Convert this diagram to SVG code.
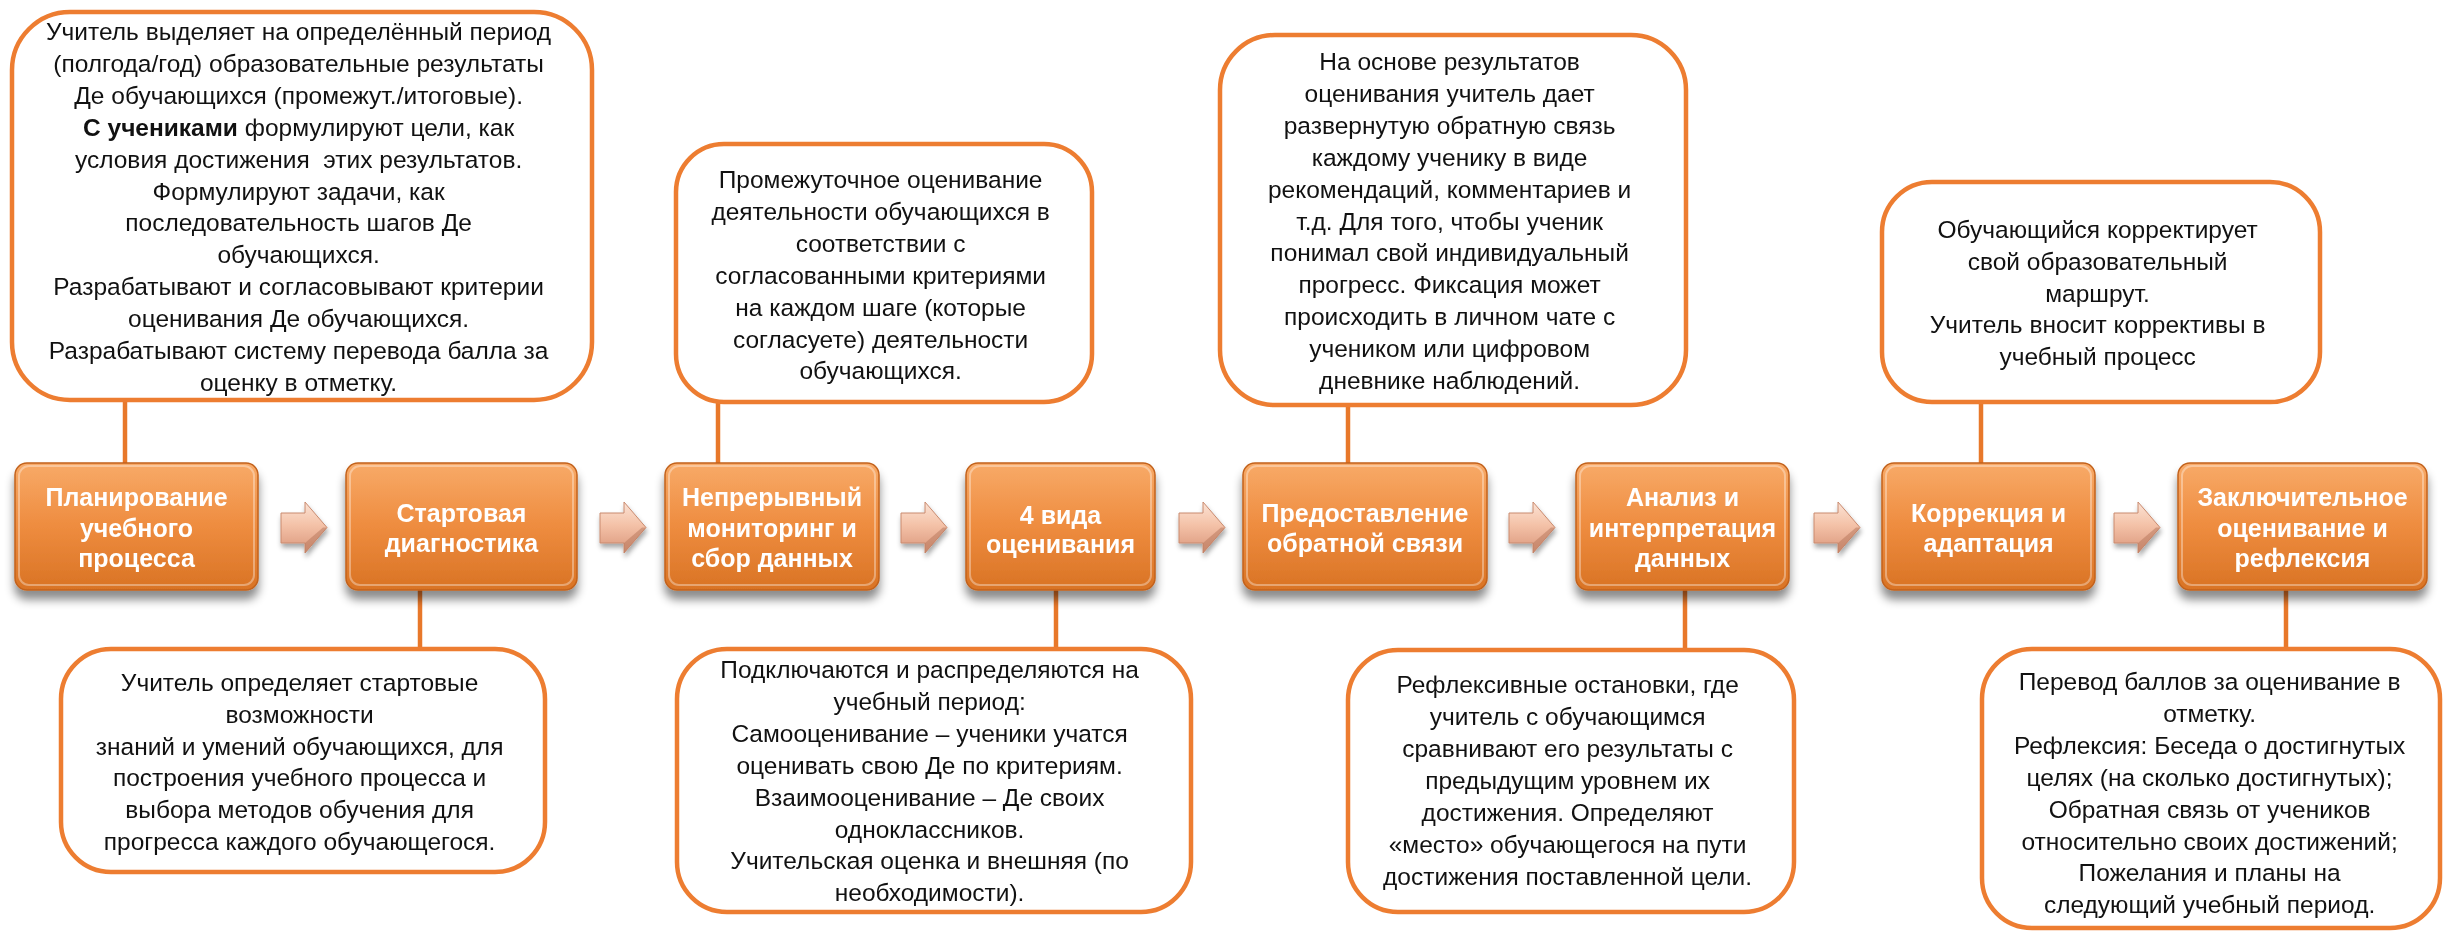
<svg xmlns="http://www.w3.org/2000/svg" width="2445" height="933" viewBox="0 0 2445 933">
<defs>
<linearGradient id="og" x1="0" y1="0" x2="0" y2="1">
<stop offset="0" stop-color="#F8AA68"/>
<stop offset="0.5" stop-color="#EE8C3F"/>
<stop offset="1" stop-color="#D97324"/>
</linearGradient>
<linearGradient id="ag" x1="0" y1="0" x2="0" y2="1">
<stop offset="0" stop-color="#FBE3D5"/>
<stop offset="0.45" stop-color="#F4C2A8"/>
<stop offset="1" stop-color="#D9957A"/>
</linearGradient>
<filter id="sh" x="-20%" y="-20%" width="140%" height="160%">
<feDropShadow dx="0" dy="9" stdDeviation="5" flood-color="#000" flood-opacity="0.45"/>
</filter>
<filter id="ash" x="-30%" y="-30%" width="160%" height="170%">
<feDropShadow dx="1" dy="4" stdDeviation="2.5" flood-color="#000" flood-opacity="0.35"/>
</filter>
<symbol id="arrow" overflow="visible">
<polygon points="0,11 24,11 24,0 46,25.5 24,51 24,41 0,41" fill="url(#ag)" stroke="#C98A6E" stroke-width="1"/>
<polygon points="24,41 24,51 46,25.5 42,25.5" fill="#B97A5E" opacity="0.55"/>
</symbol>
</defs>
<style>
.call{fill:#fff;stroke:#ED7D31;stroke-width:4.5}
.conn{stroke:#E8782A;stroke-width:4.5;fill:none}
.pbox{fill:url(#og);stroke:#C2621C;stroke-width:1.5}
.hl{fill:none;stroke:#fff;stroke-opacity:0.35;stroke-width:2}
.t{font-family:"Liberation Sans",Arial,sans-serif;font-size:24.5px;fill:#111;text-anchor:middle;white-space:pre}
.pt{font-family:"Liberation Sans",Arial,sans-serif;font-size:25px;font-weight:bold;fill:#fff;text-anchor:middle}
</style>

<g id="connectors">
<line class="conn" x1="125" y1="400" x2="125" y2="463"/>
<line class="conn" x1="420" y1="590" x2="420" y2="649"/>
<line class="conn" x1="718" y1="402" x2="718" y2="463"/>
<line class="conn" x1="1056" y1="590" x2="1056" y2="649"/>
<line class="conn" x1="1348" y1="405" x2="1348" y2="463"/>
<line class="conn" x1="1685" y1="590" x2="1685" y2="650"/>
<line class="conn" x1="1981" y1="402" x2="1981" y2="463"/>
<line class="conn" x1="2286" y1="590" x2="2286" y2="649"/>
<g filter="url(#ash)">
<use href="#arrow" x="281" y="502"/>
<use href="#arrow" x="600" y="502"/>
<use href="#arrow" x="901" y="502"/>
<use href="#arrow" x="1179" y="502"/>
<use href="#arrow" x="1509" y="502"/>
<use href="#arrow" x="1814" y="502"/>
<use href="#arrow" x="2114" y="502"/>
</g>
</g>

<g id="p1">
<rect class="pbox" x="15" y="463" width="243" height="127" rx="12" filter="url(#sh)"/>
<rect class="hl" x="19" y="466" width="235" height="119" rx="10"/>
<text class="pt"><tspan x="136.5" y="506">Планирование</tspan><tspan x="136.5" y="536.5">учебного</tspan><tspan x="136.5" y="567">процесса</tspan></text>
</g>
<g id="p2">
<rect class="pbox" x="346" y="463" width="231" height="127" rx="12" filter="url(#sh)"/>
<rect class="hl" x="350" y="466" width="223" height="119" rx="10"/>
<text class="pt"><tspan x="461.5" y="522">Стартовая</tspan><tspan x="461.5" y="552">диагностика</tspan></text>
</g>
<g id="p3">
<rect class="pbox" x="665" y="463" width="214" height="127" rx="12" filter="url(#sh)"/>
<rect class="hl" x="669" y="466" width="206" height="119" rx="10"/>
<text class="pt"><tspan x="772" y="506">Непрерывный</tspan><tspan x="772" y="536.5">мониторинг и</tspan><tspan x="772" y="567">сбор данных</tspan></text>
</g>
<g id="p4">
<rect class="pbox" x="966" y="463" width="189" height="127" rx="12" filter="url(#sh)"/>
<rect class="hl" x="970" y="466" width="181" height="119" rx="10"/>
<text class="pt"><tspan x="1060.5" y="524">4 вида</tspan><tspan x="1060.5" y="553">оценивания</tspan></text>
</g>
<g id="p5">
<rect class="pbox" x="1243" y="463" width="244" height="127" rx="12" filter="url(#sh)"/>
<rect class="hl" x="1247" y="466" width="236" height="119" rx="10"/>
<text class="pt"><tspan x="1365" y="522">Предоставление</tspan><tspan x="1365" y="552">обратной связи</tspan></text>
</g>
<g id="p6">
<rect class="pbox" x="1576" y="463" width="213" height="127" rx="12" filter="url(#sh)"/>
<rect class="hl" x="1580" y="466" width="205" height="119" rx="10"/>
<text class="pt"><tspan x="1682.5" y="506">Анализ и</tspan><tspan x="1682.5" y="536.5">интерпретация</tspan><tspan x="1682.5" y="567">данных</tspan></text>
</g>
<g id="p7">
<rect class="pbox" x="1882" y="463" width="213" height="127" rx="12" filter="url(#sh)"/>
<rect class="hl" x="1886" y="466" width="205" height="119" rx="10"/>
<text class="pt"><tspan x="1988.5" y="522">Коррекция и</tspan><tspan x="1988.5" y="552">адаптация</tspan></text>
</g>
<g id="p8">
<rect class="pbox" x="2178" y="463" width="249" height="127" rx="12" filter="url(#sh)"/>
<rect class="hl" x="2182" y="466" width="241" height="119" rx="10"/>
<text class="pt"><tspan x="2302.5" y="506">Заключительное</tspan><tspan x="2302.5" y="536.5">оценивание и</tspan><tspan x="2302.5" y="567">рефлексия</tspan></text>
</g>

<g id="cA">
<rect class="call" x="12" y="12" width="580" height="388" rx="58"/>
<text class="t">
<tspan x="302" y="40">Учитель выделяет на определённый период</tspan>
<tspan x="302" y="71.9">(полгода/год) образовательные результаты</tspan>
<tspan x="302" y="103.8">Де обучающихся (промежут./итоговые).</tspan>
<tspan x="302" y="135.7"><tspan font-weight="bold">С учениками</tspan> формулируют цели, как</tspan>
<tspan x="302" y="167.6">условия достижения  этих результатов.</tspan>
<tspan x="302" y="199.5">Формулируют задачи, как</tspan>
<tspan x="302" y="231.4">последовательность шагов Де</tspan>
<tspan x="302" y="263.3">обучающихся.</tspan>
<tspan x="302" y="295.2">Разрабатывают и согласовывают критерии</tspan>
<tspan x="302" y="327.1">оценивания Де обучающихся.</tspan>
<tspan x="302" y="359">Разрабатывают систему перевода балла за</tspan>
<tspan x="302" y="390.9">оценку в отметку.</tspan>
</text>
</g>

<g id="cB">
<rect class="call" x="61" y="649" width="484" height="223" rx="50"/>
<text class="t">
<tspan x="303" y="691">Учитель определяет стартовые</tspan>
<tspan x="303" y="722.8">возможности</tspan>
<tspan x="303" y="754.6">знаний и умений обучающихся, для</tspan>
<tspan x="303" y="786.4">построения учебного процесса и</tspan>
<tspan x="303" y="818.2">выбора методов обучения для</tspan>
<tspan x="303" y="850">прогресса каждого обучающегося.</tspan>
</text>
</g>

<g id="cC">
<rect class="call" x="676" y="144" width="416" height="258" rx="48"/>
<text class="t">
<tspan x="884" y="188">Промежуточное оценивание</tspan>
<tspan x="884" y="219.9">деятельности обучающихся в</tspan>
<tspan x="884" y="251.8">соответствии с</tspan>
<tspan x="884" y="283.7">согласованными критериями</tspan>
<tspan x="884" y="315.6">на каждом шаге (которые</tspan>
<tspan x="884" y="347.5">согласуете) деятельности</tspan>
<tspan x="884" y="379.4">обучающихся.</tspan>
</text>
</g>

<g id="cD">
<rect class="call" x="677" y="649" width="514" height="263" rx="50"/>
<text class="t">
<tspan x="933" y="678">Подключаются и распределяются на</tspan>
<tspan x="933" y="709.9">учебный период:</tspan>
<tspan x="933" y="741.8">Самооценивание – ученики учатся</tspan>
<tspan x="933" y="773.7">оценивать свою Де по критериям.</tspan>
<tspan x="933" y="805.6">Взаимооценивание – Де своих</tspan>
<tspan x="933" y="837.5">одноклассников.</tspan>
<tspan x="933" y="869.4">Учительская оценка и внешняя (по</tspan>
<tspan x="933" y="901.3">необходимости).</tspan>
</text>
</g>

<g id="cE">
<rect class="call" x="1220" y="35" width="466" height="370" rx="55"/>
<text class="t">
<tspan x="1453" y="70">На основе результатов</tspan>
<tspan x="1453" y="101.9">оценивания учитель дает</tspan>
<tspan x="1453" y="133.8">развернутую обратную связь</tspan>
<tspan x="1453" y="165.7">каждому ученику в виде</tspan>
<tspan x="1453" y="197.6">рекомендаций, комментариев и</tspan>
<tspan x="1453" y="229.5">т.д. Для того, чтобы ученик</tspan>
<tspan x="1453" y="261.4">понимал свой индивидуальный</tspan>
<tspan x="1453" y="293.3">прогресс. Фиксация может</tspan>
<tspan x="1453" y="325.2">происходить в личном чате с</tspan>
<tspan x="1453" y="357.1">учеником или цифровом</tspan>
<tspan x="1453" y="389">дневнике наблюдений.</tspan>
</text>
</g>

<g id="cF">
<rect class="call" x="1348" y="650" width="446" height="262" rx="50"/>
<text class="t">
<tspan x="1571" y="693">Рефлексивные остановки, где</tspan>
<tspan x="1571" y="725">учитель с обучающимся</tspan>
<tspan x="1571" y="757">сравнивают его результаты с</tspan>
<tspan x="1571" y="789">предыдущим уровнем их</tspan>
<tspan x="1571" y="821">достижения. Определяют</tspan>
<tspan x="1571" y="853">«место» обучающегося на пути</tspan>
<tspan x="1571" y="885">достижения поставленной цели.</tspan>
</text>
</g>

<g id="cG">
<rect class="call" x="1882" y="182" width="438" height="220" rx="50"/>
<text class="t">
<tspan x="2101" y="238">Обучающийся корректирует</tspan>
<tspan x="2101" y="269.8">свой образовательный</tspan>
<tspan x="2101" y="301.6">маршрут.</tspan>
<tspan x="2101" y="333.4">Учитель вносит коррективы в</tspan>
<tspan x="2101" y="365.2">учебный процесс</tspan>
</text>
</g>

<g id="cH">
<rect class="call" x="1982" y="649" width="458" height="279" rx="50"/>
<text class="t">
<tspan x="2213" y="690">Перевод баллов за оценивание в</tspan>
<tspan x="2213" y="721.9">отметку.</tspan>
<tspan x="2213" y="753.8">Рефлексия: Беседа о достигнутых</tspan>
<tspan x="2213" y="785.7">целях (на сколько достигнутых);</tspan>
<tspan x="2213" y="817.6">Обратная связь от учеников</tspan>
<tspan x="2213" y="849.5">относительно своих достижений;</tspan>
<tspan x="2213" y="881.4">Пожелания и планы на</tspan>
<tspan x="2213" y="913.3">следующий учебный период.</tspan>
</text>
</g>
</svg>
